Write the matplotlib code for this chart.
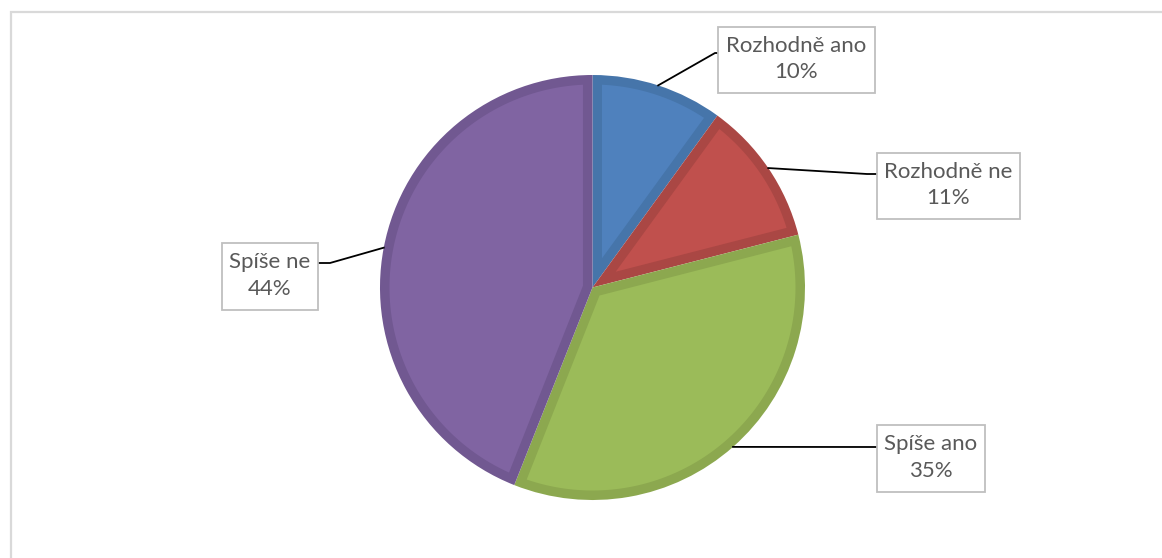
import numpy as np
import matplotlib.pyplot as plt
from matplotlib.patches import Rectangle, Polygon

# data
labels = ['Rozhodně ano', 'Rozhodně ne', 'Spíše ano', 'Spíše ne']
values = [10, 11, 35, 44]
fill_colors = ['#4F81BD', '#C0504D', '#9BBB59', '#8064A2']
edge_colors = ['#4675AA', '#AA4744', '#8CA84F', '#715891']

# label boxes (pixel coords, y from top): x0, y0, x1, y1
boxes = [(718, 27, 875, 93), (877, 153, 1020, 219), (877, 425, 985, 492), (222, 243, 318, 310)]
# elbow points of the leader lines
elbows = [(715, 53), (867, 174), (877, 447), (330, 263)]

W, H = 1162, 558
fig = plt.figure(figsize=(W / 100, H / 100), dpi=100)
ax = fig.add_axes([0, 0, 1, 1])

def fy(y):
    return H - y

cx, cy, r = 592.5, fy(287.5), 212.5
explode = [0, 0, 0, 0.014]
wedges, _ = ax.pie(values, colors=edge_colors, startangle=90, counterclock=False,
                   center=(cx, cy), radius=r, explode=explode, frame=True,
                   wedgeprops=dict(linewidth=0))
ax.set_xlim(0, W)
ax.set_ylim(0, H)
ax.set_aspect('equal')
ax.axis('off')

# outer frame
ax.plot([10.5, 10.5, W], [0, fy(11.5), fy(11.5)], color='#D9D9D9', lw=1.6, solid_joinstyle='miter')

# lighter inner part of every wedge, inset by a border width
d = 9.5
for w, fc in zip(wedges, fill_colors):
    wx, wy = w.center
    t1, t2 = np.deg2rad(w.theta1), np.deg2rad(w.theta2)
    span = t2 - t1
    bis = (t1 + t2) / 2
    apex_d = d / np.sin(span / 2)
    ri = w.r - d
    off = np.arcsin(d / ri)
    ts = np.linspace(t1 + off, t2 - off, 100)
    pts = [(wx + apex_d * np.cos(bis), wy + apex_d * np.sin(bis))]
    pts += [(wx + ri * np.cos(t), wy + ri * np.sin(t)) for t in ts]
    ax.add_patch(Polygon(pts, closed=True, facecolor=fc, edgecolor='none', zorder=w.get_zorder() + 0.1))

for w, lab, v, box, elb in zip(wedges, labels, values, boxes, elbows):
    mid = np.deg2rad((w.theta1 + w.theta2) / 2)
    wx, wy = w.center
    sx = wx + w.r * np.cos(mid)
    sy = wy + w.r * np.sin(mid)
    x0, y0, x1, y1 = box
    ex, ey = elb
    bx = x0 if abs(ex - x0) < abs(ex - x1) else x1
    ax.plot([sx, ex, bx], [sy, fy(ey), fy(ey)], color='black', lw=1.3, zorder=3)
    ax.add_patch(Rectangle((x0, fy(y1)), x1 - x0, y1 - y0, facecolor='white',
                           edgecolor='#BFBFBF', lw=1.3, zorder=4))
    ax.text((x0 + x1) / 2, fy((y0 + y1) / 2) + 1, f'{lab}\n{v}%', ha='center', va='center',
            fontsize=16, color='#595959', family='Lato', linespacing=1.4, zorder=5)

fig.savefig('out.png', dpi=100)
